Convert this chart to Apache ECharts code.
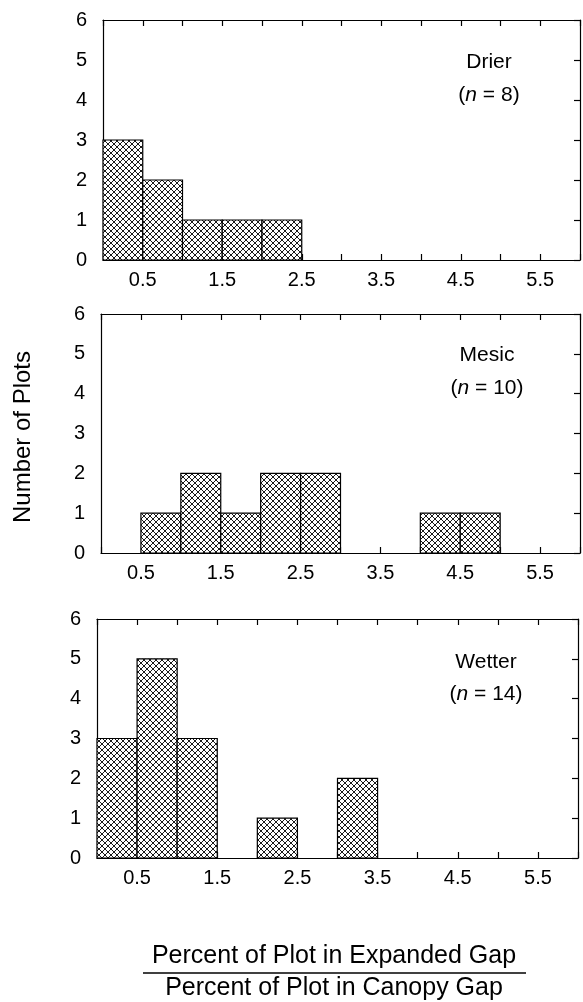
<!DOCTYPE html>
<html lang="en">
<head>
    <meta charset="UTF-8">
    <title>Plots per gap ratio</title>
    <script src="https://cdn.jsdelivr.net/npm/echarts@6/dist/echarts.min.js"></script>
    <style>
        html, body { margin: 0; padding: 0; background: #fff; }
        #chart { width: 583px; height: 1002px; }
    </style>
</head>
<body>
<div id="chart"></div>
<script type="text/javascript">
// lower edge of each 0.5-wide bin
var binLower = [0, 0.5, 1, 1.5, 2, 2.5, 3, 3.5, 4, 4.5, 5, 5.5];
var binWidth = 0.5;
// number of plots in each bin
var drierCounts  = [3, 2, 1, 1, 1, 0, 0, 0, 0, 0, 0, 0];
var mesicCounts  = [0, 1, 2, 1, 2, 2, 0, 0, 1, 1, 0, 0];
var wetterCounts = [3, 5, 3, 0, 1, 0, 2, 0, 0, 0, 0, 0];
var panelNames = ['Drier', 'Mesic', 'Wetter'];
var panelN = [8, 10, 14];
var xTickLabels = ['0.5', '1.5', '2.5', '3.5', '4.5', '5.5'];
var yTickLabels = ['0', '1', '2', '3', '4', '5', '6'];

var FONT = '"Liberation Sans", Arial, Helvetica, sans-serif';

// cross-hatch fill
function makeHatch() {
    var s = 6;
    var c = document.createElement('canvas');
    c.width = s; c.height = s;
    var ctx = c.getContext('2d');
    ctx.fillStyle = '#fff';
    ctx.fillRect(0, 0, s, s);
    ctx.strokeStyle = '#000';
    ctx.lineWidth = 0.9;
    ctx.beginPath();
    ctx.moveTo(0, 0); ctx.lineTo(s, s);
    ctx.moveTo(0, s); ctx.lineTo(s, 0);
    ctx.stroke();
    return c;
}
var hatch = makeHatch();

var grids = [
    {left: 103, top: 20, width: 479, height: 240},
    {left: 101, top: 314, width: 480, height: 239},
    {left: 97, top: 619, width: 481, height: 239}
];
var labelPos = [[489, 62, 95], [487, 355, 388], [486, 662, 694]];

var myChart = echarts.init(document.getElementById('chart'), null, {renderer: 'canvas'});

var xAxes = [], yAxes = [], series = [], graphics = [];
var allCounts = [drierCounts, mesicCounts, wetterCounts];
var lineStyle = {color: '#000', width: 1.2};

grids.forEach(function (g, i) {
    var base = {
        type: 'value', min: 0, max: 6, interval: 0.5, gridIndex: i,
        axisLine: {show: true, onZero: false, lineStyle: lineStyle},
        axisTick: {show: true, inside: true, length: 6, lineStyle: lineStyle},
        splitLine: {show: false}
    };
    xAxes.push(Object.assign({}, base, {
        position: 'bottom',
        axisLabel: {
            show: true, margin: 10, color: '#000', fontSize: 20, fontFamily: FONT,
            formatter: function (v) {
                var s = v.toFixed(1);
                return xTickLabels.indexOf(s) >= 0 ? s : '';
            }
        }
    }));
    xAxes.push(Object.assign({}, base, {position: 'top', axisLabel: {show: false}}));
    yAxes.push({
        type: 'value', min: 0, max: 6, interval: 1, gridIndex: i, position: 'left',
        axisLine: {show: true, onZero: false, lineStyle: lineStyle},
        axisTick: {show: false},
        splitLine: {show: false},
        axisLabel: {
            margin: 16, color: '#000', fontSize: 20, fontFamily: FONT,
            formatter: function (v) { return yTickLabels[Math.round(v)]; }
        }
    });
    yAxes.push({
        type: 'value', min: 0, max: 6, interval: 1, gridIndex: i, position: 'right',
        axisLine: {show: true, onZero: false, lineStyle: lineStyle},
        axisTick: {show: true, inside: true, length: 6, lineStyle: lineStyle},
        splitLine: {show: false},
        axisLabel: {show: false}
    });

    var data = [];
    allCounts[i].forEach(function (c, j) {
        if (c > 0) data.push([binLower[j], binLower[j] + binWidth, c]);
    });
    series.push({
        type: 'custom',
        xAxisIndex: i * 2,
        yAxisIndex: i * 2,
        data: data,
        encode: {x: [0, 1], y: 2},
        renderItem: function (params, api) {
            var p0 = api.coord([api.value(0), api.value(2)]);
            var p1 = api.coord([api.value(1), 0]);
            return {
                type: 'rect',
                shape: {x: p0[0], y: p0[1], width: p1[0] - p0[0], height: p1[1] - p0[1]},
                style: {fill: {image: hatch, repeat: 'repeat'}, stroke: '#000', lineWidth: 1.2}
            };
        }
    });

    var lp = labelPos[i];
    graphics.push({
        type: 'text', x: lp[0], y: lp[1], z: 10,
        style: {text: panelNames[i], align: 'center', verticalAlign: 'middle',
            font: '21px ' + FONT, fill: '#000'}
    });
    graphics.push({
        type: 'text', x: lp[0], y: lp[2], z: 10,
        style: {
            text: '{a|(}{i|n}{a| = ' + panelN[i] + ')}',
            align: 'center', verticalAlign: 'middle',
            rich: {
                a: {fontSize: 21, fontFamily: FONT, color: '#000'},
                i: {fontSize: 21, fontFamily: FONT, fontStyle: 'italic', color: '#000'}
            }
        }
    });
});

// y axis title
graphics.push({
    type: 'text', x: 23, y: 437, rotation: Math.PI / 2,
    style: {text: 'Number of Plots', align: 'center', verticalAlign: 'middle',
        font: '24px ' + FONT, fill: '#000'}
});
// x axis title as a fraction
graphics.push({
    type: 'text', x: 334, y: 956,
    style: {text: 'Percent of Plot in Expanded Gap', align: 'center', verticalAlign: 'middle',
        font: '25px ' + FONT, fill: '#000'}
});
graphics.push({
    type: 'line', shape: {x1: 143, y1: 973, x2: 526, y2: 973},
    style: {stroke: '#000', lineWidth: 1.5}
});
graphics.push({
    type: 'text', x: 334, y: 988,
    style: {text: 'Percent of Plot in Canopy Gap', align: 'center', verticalAlign: 'middle',
        font: '25px ' + FONT, fill: '#000'}
});

myChart.setOption({
    animation: false,
    backgroundColor: '#fff',
    grid: grids,
    xAxis: xAxes,
    yAxis: yAxes,
    series: series,
    graphic: graphics
});
</script>
</body>
</html>
